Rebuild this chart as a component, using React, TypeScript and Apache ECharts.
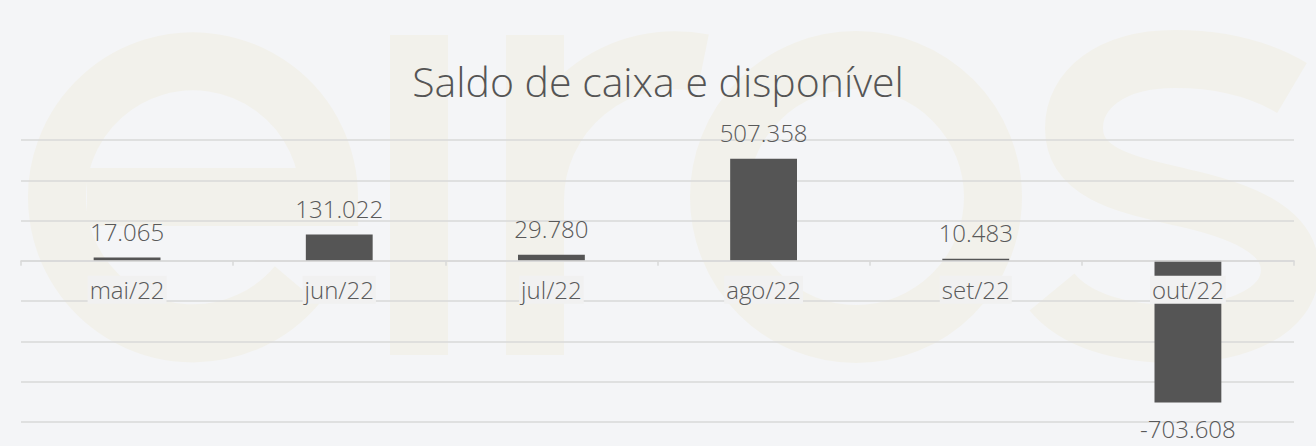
import React, { useEffect, useRef } from 'react';
import * as echarts from 'echarts';

const categories = ['mai/22', 'jun/22', 'jul/22', 'ago/22', 'set/22', 'out/22'];
const saldo = [17065, 131022, 29780, 507358, 10483, -703608];
const yMin = -800000;
const yMax = 600000;
const yStep = 200000;
const chartTitle = 'Saldo de caixa e disponível';

// "eiros" watermark outline (stroke centre lines)
const WATERMARK_D =
  'M 87 197 H 329 A 136 136 0 1 0 297 285 ' +
  'M 419 35 V 355 ' +
  'M 535 35 V 355 M 535 200 A 140 140 0 0 1 703 63 ' +
  'M 993 197 A 137 137 0 1 0 719 197 A 137 137 0 1 0 993 197 Z ' +
  'M 1292 88 C 1255 66 1215 59 1175 59 C 1110 59 1074 90 1074 128 ' +
  'C 1074 175 1130 185 1180 197 C 1240 210 1290 230 1290 270 ' +
  'C 1290 310 1240 334 1175 334 C 1120 334 1075 320 1052 292';

const FONT = '"Open Sans", Lato, sans-serif';

const GRID_TOP = 140;
const GRID_BOTTOM = 24;
const CHART_H = 446;

function fmt(v: number): string {
  const s = Math.abs(Math.round(v)).toString().replace(/\B(?=(\d{3})+(?!\d))/g, '.');
  return (v < 0 ? '-' : '') + s;
}

let registered = false;

export default function App() {
  const ref = useRef<HTMLDivElement>(null);
  useEffect(() => {
    if (!ref.current) return;
    if (!registered) {
      echarts.graphic.registerShape('eirosmark', echarts.graphic.extendPath(WATERMARK_D, {}));
      registered = true;
    }
    const chart = echarts.init(ref.current, undefined, { renderer: 'svg' });
    const gridH = CHART_H - GRID_TOP - GRID_BOTTOM;
    const zeroOffset = -gridH * (0 - yMin) / (yMax - yMin);
    chart.setOption({
      animation: false,
      backgroundColor: '#f4f5f7',
      title: {
        text: chartTitle,
        left: 'center',
        top: 55,
        textStyle: { fontFamily: FONT, fontSize: 41, fontWeight: 300, color: '#555555' },
      },
      graphic: [
        {
          type: 'eirosmark',
          x: 0,
          y: 0,
          z: -100,
          silent: true,
          style: { fill: 'none', stroke: '#f2f1eb', lineWidth: 58, lineCap: 'butt' },
        },
      ],
      grid: { left: 21, right: 22, top: GRID_TOP, bottom: GRID_BOTTOM, containLabel: false, outerBoundsMode: 'none' },
      xAxis: {
        type: 'category',
        data: categories,
        z: 10,
        position: 'bottom',
        offset: zeroOffset,
        axisLine: { onZero: false, lineStyle: { color: '#d9d9d9', width: 1.5 } },
        axisTick: { show: true, length: 5, lineStyle: { color: '#d9d9d9', width: 1.5 } },
        axisLabel: {
          margin: 15,
          fontFamily: FONT,
          fontSize: 24,
          fontWeight: 300,
          color: '#595959',
          backgroundColor: '#f1f1f1',
          padding: [2, 2, 2, 2],
        },
        splitLine: { show: false },
      },
      yAxis: {
        type: 'value',
        min: yMin,
        max: yMax,
        interval: yStep,
        axisLabel: { show: false },
        axisLine: { show: false },
        axisTick: { show: false },
        splitLine: { lineStyle: { color: '#d9d9d9', width: 1.5 } },
      },
      series: [
        {
          type: 'bar',
          barWidth: '31.5%',
          itemStyle: { color: '#555555' },
          label: {
            show: true,
            distance: 14,
            fontFamily: FONT,
            fontSize: 24,
            fontWeight: 300,
            color: '#595959',
            formatter: (p: any) => fmt(p.value),
          },
          data: saldo.map((v) => ({ value: v, label: { position: v < 0 ? 'bottom' : 'top' } })),
        },
      ],
    });
    return () => chart.dispose();
  }, []);
  return (
    <div
      ref={ref}
      style={{ position: 'fixed', left: 0, top: 0, width: 1316, height: 446 }}
    />
  );
}
